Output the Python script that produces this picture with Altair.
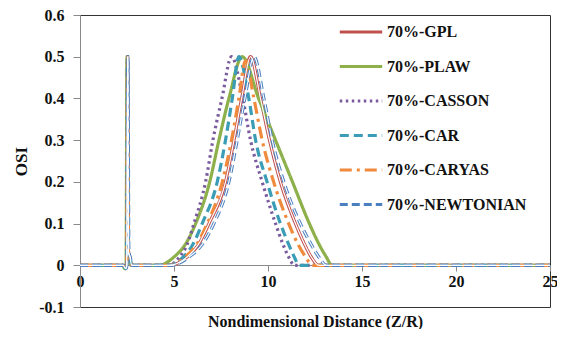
import altair as alt
import pandas as pd

series_names = ["70%-GPL", "70%-PLAW", "70%-CASSON", "70%-CAR", "70%-CARYAS", "70%-NEWTONIAN"]
series_colors = ["#c0504d", "#8db04a", "#7a5b9e", "#3a9db5", "#f08a3c", "#4a7fc0"]
series_dashes = [[1, 0], [1, 0], [2.5, 3.5], [9, 5], [12, 5, 3, 5], [8, 4]]

gpl_x = [0, 2.3, 2.42, 2.48, 2.53, 2.58, 2.65, 2.75, 4.7, 5.7, 6.3, 6.86, 7.74, 8.19, 8.6, 9.07, 9.6, 10.08, 10.66, 11.46, 11.95, 12.3, 12.7, 25]
plaw_x = [0, 2.27, 2.39, 2.45, 2.5, 2.55, 2.62, 2.72, 4.2, 5.0, 5.6, 6.15, 6.9, 7.39, 7.92, 8.63, 9.5, 10.4, 11.3, 12.2, 12.72, 13.1, 13.4, 25]
casson_x = [0, 2.3, 2.42, 2.48, 2.53, 2.58, 2.65, 2.75, 4.7, 5.3, 5.7, 6.06, 6.68, 7.07, 7.55, 8.06, 8.66, 9.07, 9.69, 10.4, 10.8, 11.1, 11.4, 25]
car_x = [0, 2.3, 2.42, 2.48, 2.53, 2.58, 2.65, 2.75, 4.6, 5.5, 6.0, 6.5, 7.3, 7.74, 8.1, 8.45, 8.98, 9.34, 9.95, 10.66, 11.1, 11.4, 11.65, 25]
caryas_x = [0, 2.3, 2.42, 2.48, 2.53, 2.58, 2.65, 2.75, 4.7, 5.6, 6.2, 6.77, 7.57, 8.06, 8.45, 8.8, 9.25, 9.69, 10.3, 11.1, 11.6, 12.0, 12.35, 25]
newt_x = [0, 2.32, 2.44, 2.5, 2.55, 2.6, 2.67, 2.77, 4.8, 5.8, 6.5, 7.12, 7.92, 8.36, 8.77, 9.25, 9.78, 10.22, 10.84, 11.72, 12.3, 12.7, 13.1, 25]

gpl_y = [0, 0, -0.008, 0, 0.5, 0.03, 0.02, 0, 0, 0.02, 0.05, 0.1, 0.2, 0.3, 0.4, 0.5, 0.4, 0.3, 0.2, 0.1, 0.05, 0.02, 0, 0]
plaw_y = [0, 0, -0.008, 0, 0.5, 0.03, 0.02, 0, 0, 0.02, 0.05, 0.1, 0.2, 0.3, 0.4, 0.5, 0.4, 0.3, 0.2, 0.1, 0.05, 0.02, 0, 0]
casson_y = [0, 0, -0.008, 0, 0.5, 0.03, 0.02, 0, 0, 0.02, 0.05, 0.1, 0.2, 0.3, 0.4, 0.5, 0.4, 0.3, 0.2, 0.1, 0.05, 0.02, 0, 0]
car_y = [0, 0, -0.008, 0, 0.5, 0.03, 0.02, 0, 0, 0.02, 0.05, 0.1, 0.2, 0.3, 0.4, 0.5, 0.4, 0.3, 0.2, 0.1, 0.05, 0.02, 0, 0]
caryas_y = [0, 0, -0.008, 0, 0.5, 0.03, 0.02, 0, 0, 0.02, 0.05, 0.1, 0.2, 0.3, 0.4, 0.49, 0.4, 0.3, 0.2, 0.1, 0.05, 0.02, 0, 0]
newt_y = [0, 0, -0.008, 0, 0.5, 0.03, 0.02, 0, 0, 0.02, 0.05, 0.1, 0.2, 0.3, 0.4, 0.5, 0.4, 0.3, 0.2, 0.1, 0.05, 0.02, 0, 0]

all_x = [gpl_x, plaw_x, casson_x, car_x, caryas_x, newt_x]
all_y = [gpl_y, plaw_y, casson_y, car_y, caryas_y, newt_y]

rows = []
for k, (name, xs, ys) in enumerate(zip(series_names, all_x, all_y)):
    for i, (xv, yv) in enumerate(zip(xs, ys)):
        rows.append({"series": name, "order": k, "idx": i, "x": xv, "y": yv})
df = pd.DataFrame(rows)

FONT = "Liberation Serif"

x_enc = alt.X("x:Q", scale=alt.Scale(domain=[0, 25], nice=False),
              axis=alt.Axis(values=[0, 5, 10, 15, 20, 25], offset=-42, title="Nondimensional  Distance (Z/R)",
                            grid=False, domainColor="#8a8a8a", tickColor="#8a8a8a", tickSize=6,
                            labelPadding=2, labelFont=FONT, labelFontWeight="bold", labelFontSize=16,
                            labelColor="#111", titleFont=FONT, titleFontWeight="bold", titleFontSize=16,
                            titleColor="#111", titlePadding=24, labelFlush=False))
y_enc = alt.Y("y:Q", scale=alt.Scale(domain=[-0.1, 0.6], nice=False),
              axis=alt.Axis(values=[-0.1, 0, 0.1, 0.2, 0.3, 0.4, 0.5, 0.6], title="OSI", grid=False,
                            domainColor="#8a8a8a", tickColor="#8a8a8a", tickSize=7, labelPadding=9,
                            labelExpr="replace(format(datum.value, '.1~f'), '\u2212', '-')",
                            labelFont=FONT, labelFontWeight="bold", labelFontSize=16, labelColor="#111",
                            titleFont=FONT, titleFontWeight="bold", titleFontSize=17, titleColor="#111",
                            titlePadding=8))

legend_opts = dict(title=None, orient="none", legendX=258, legendY=-6,
                   symbolType="stroke", symbolSize=1800, symbolStrokeWidth=3,
                   labelFont=FONT, labelFontWeight="bold", labelFontSize=16,
                   labelColor="#111", labelOffset=3, rowPadding=3.5, labelLimit=300)

base = alt.Chart(df)

main = base.mark_line(interpolate="monotone", strokeWidth=3.2).encode(
    x=x_enc, y=y_enc,
    color=alt.Color("series:N", scale=alt.Scale(domain=series_names, range=series_colors),
                    sort=series_names, legend=alt.Legend(**legend_opts)),
    strokeDash=alt.StrokeDash("series:N", scale=alt.Scale(domain=series_names, range=series_dashes),
                              sort=series_names, legend=alt.Legend(**legend_opts)),
    order=alt.Order("idx:Q"),
)

core_gpl = base.transform_filter(alt.datum.series == "70%-GPL").mark_line(
    interpolate="monotone", strokeWidth=1.2, color="white").encode(x="x:Q", y="y:Q", order="idx:Q")
core_newt = base.transform_filter(alt.datum.series == "70%-NEWTONIAN").mark_line(
    interpolate="monotone", strokeWidth=1.2, color="white", strokeDash=[8, 4]).encode(x="x:Q", y="y:Q", order="idx:Q")

chart = alt.layer(main, core_gpl, core_newt).properties(
    width=470, height=292,
    autosize=alt.AutoSizeParams(type="none"),
    padding={"left": 72, "top": 7, "right": 7, "bottom": 22},
    background="white",
).configure_view(stroke="#333", strokeWidth=1)

chart.save("out.html", embed_options={"renderer": "svg", "actions": False})
